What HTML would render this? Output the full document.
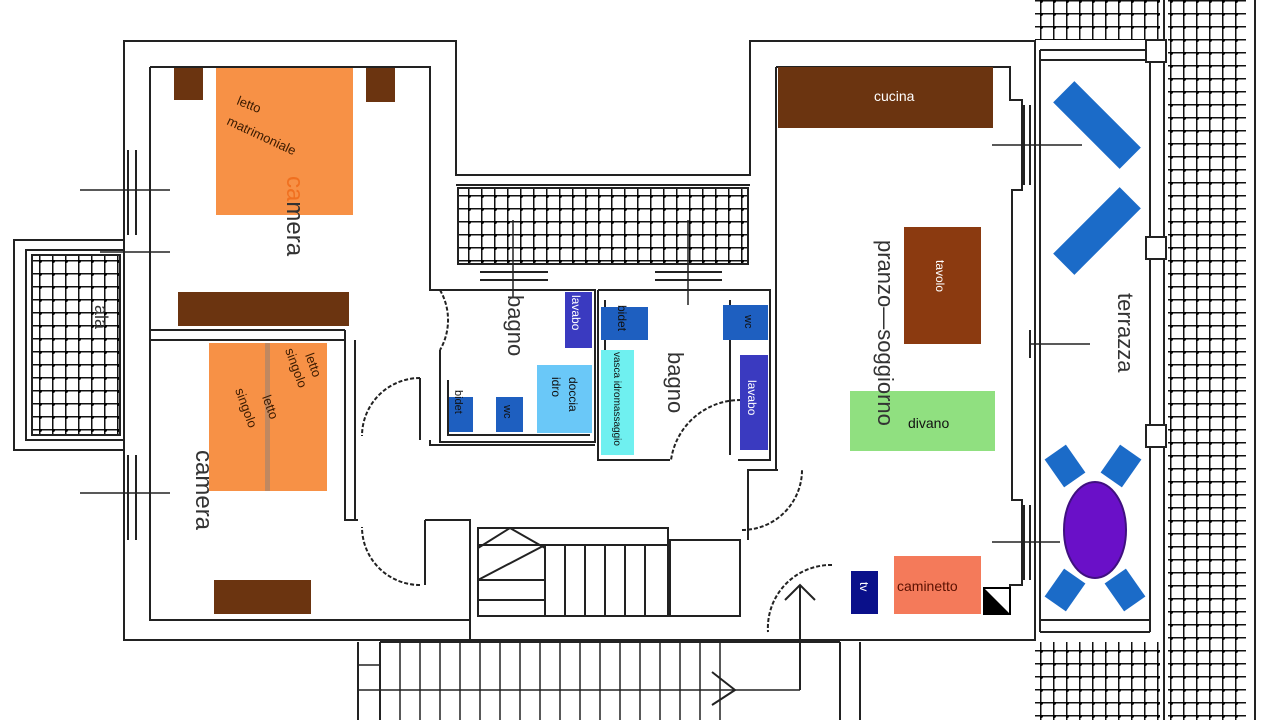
<!DOCTYPE html>
<html><head><meta charset="utf-8"><style>
html,body{margin:0;padding:0;background:#fff;width:1280px;height:720px;overflow:hidden}
svg{display:block;font-family:"Liberation Sans",sans-serif}
</style></head><body>
<svg width="1280" height="720" viewBox="0 0 1280 720" xmlns="http://www.w3.org/2000/svg">
<defs>
<pattern id="t" width="13" height="13" patternUnits="userSpaceOnUse">
<rect width="13" height="13" fill="#fff"/>
<path d="M0 0.5H13M0.5 0V13" stroke="#111" stroke-width="2"/>
<circle cx="1" cy="1" r="2" fill="#000"/>
</pattern>
</defs>
<g fill="none" stroke="#222" stroke-width="2">
<rect x="1035" y="0" width="125" height="40" fill="url(#t)" stroke="none"/>
<rect x="1035" y="642" width="125" height="78" fill="url(#t)" stroke="none"/>
<rect x="1168" y="0" width="78" height="720" fill="url(#t)" stroke="none"/>
<rect x="458" y="188" width="290" height="76" fill="url(#t)"/>
<rect x="32" y="255" width="88" height="180" fill="url(#t)"/>
<line x1="1255" y1="0" x2="1255" y2="720"/>
<line x1="1164" y1="0" x2="1164" y2="720"/>
<rect x="14" y="240" width="110" height="210"/>
<rect x="26" y="250" width="98" height="190"/>
<path d="M124 41H456V175H750V41H1035V640H124Z"/>
<path d="M150 67H430V290H440"/>
<path d="M150 67V620H470V525"/>
<path d="M776 67H1010V100H1022V190H1012V500H1022V585H1010V600"/>
<path d="M776 67V470"/>
<line x1="456" y1="185" x2="750" y2="185"/>
<line x1="150" y1="330" x2="345" y2="330"/>
<line x1="150" y1="340" x2="345" y2="340"/>
<path d="M345 330V520H358"/><path d="M355 340V520"/>
<path d="M440 290H595V442H440V350"/>
<path d="M448 380V435H590"/>
<path d="M430 440V445H595"/>
<path d="M598 290H770V460H738"/>
<path d="M598 290V460H670"/>
<path d="M605 300V455"/>
<path d="M730 300V455"/>
<path d="M778 470H748V540"/>
<path d="M440 290A60 60 0 0 1 440 350" stroke-dasharray="4 2"/>
<path d="M420 378A58 58 0 0 0 362 436" stroke-dasharray="4 2"/>
<path d="M420 585A58 58 0 0 1 362 527" stroke-dasharray="4 2"/>
<path d="M741 400A70 70 0 0 0 671 460" stroke-dasharray="4 2"/>
<path d="M742 530A60 60 0 0 0 802 470" stroke-dasharray="4 2"/>
<path d="M832 565A63 63 0 0 0 768 632" stroke-dasharray="4 2"/>
<line x1="420" y1="378" x2="420" y2="440"/>
<path d="M425 520H470V640"/>
<path d="M425 520V585"/>
<rect x="478" y="528" width="190" height="88"/>
<path d="M478 545H545V616M545 545H668M565 545V616M585 545V616M605 545V616M625 545V616M645 545V616M478 580H545M478 600H545"/>
<rect x="670" y="540" width="70" height="76"/>
<path d="M478 548L510 528L545 548M478 580L545 545"/>
<path d="M358 642V720M380 642V720M840 642V720M860 642V720"/>
<path d="M380 642H840"/>
<g stroke-width="1.5"><path d="M400 642V720M420 642V720M440 642V720M460 642V720M480 642V720M500 642V720M520 642V720M540 642V720M560 642V720M580 642V720M600 642V720M620 642V720M640 642V720M660 642V720M680 642V720M700 642V720M720 642V720M358 665H380M358 690H800"/></g>
<path d="M800 585V690M785 600L800 585L815 600M712 672L735 690L712 705"/>
<path d="M1040 50V632M1150 60V632"/>
<path d="M1040 60H1150M1040 50H1150M1040 620H1150M1040 632H1150"/>
<rect x="1146" y="40" width="20" height="22" fill="#fff"/>
<rect x="1146" y="237" width="20" height="22" fill="#fff"/>
<rect x="1146" y="425" width="20" height="22" fill="#fff"/>
<path d="M128 150V235M136 150V235M128 455V540M136 455V540M1024 105V185M1030 105V185M1024 505V580M1030 505V580M1030 330V358"/>
<path d="M480 272H548M480 280H548M655 272H722M655 280H722"/>
<g stroke-width="1.5"><path d="M80 190H170M100 252H170M80 493H170M992 145H1082M1030 344H1090M992 542H1060M513 220V298M688 220V305"/></g>
</g>
<rect x="216" y="68" width="137" height="147" fill="#F79146"/>
<rect x="174" y="68" width="29" height="32" fill="#6B3410"/>
<rect x="366" y="68" width="29" height="34" fill="#6B3410"/>
<rect x="178" y="292" width="171" height="34" fill="#6B3410"/>
<rect x="209" y="343" width="56" height="148" fill="#F79146"/>
<rect x="265" y="343" width="5" height="148" fill="#C08860"/>
<rect x="270" y="343" width="57" height="148" fill="#F79146"/>
<rect x="214" y="580" width="97" height="34" fill="#6B3410"/>
<rect x="778" y="67" width="215" height="61" fill="#6B3410"/>
<rect x="904" y="227" width="77" height="117" fill="#8B3A10"/>
<rect x="850" y="391" width="145" height="60" fill="#90E080"/>
<rect x="894" y="556" width="87" height="58" fill="#F47A5A"/>
<rect x="851" y="571" width="27" height="43" fill="#0A108A"/>
<rect x="984" y="588" width="26" height="26" fill="#fff" stroke="#000" stroke-width="2"/>
<path d="M985 589L1009 613H985Z" fill="#000"/>
<rect x="565" y="292" width="27" height="56" fill="#3A3AC0"/>
<rect x="449" y="397" width="24" height="35" fill="#1E5FC0"/>
<rect x="496" y="397" width="27" height="35" fill="#1E5FC0"/>
<rect x="537" y="365" width="55" height="68" fill="#6AC8F8"/>
<rect x="601" y="307" width="47" height="33" fill="#1E5FC0"/>
<rect x="601" y="350" width="33" height="105" fill="#6FF0F0"/>
<rect x="723" y="305" width="45" height="35" fill="#1E5FC0"/>
<rect x="740" y="355" width="28" height="95" fill="#3A3AC0"/>
<g fill="#1B6BC8">
<rect x="-47" y="-15" width="94" height="30" transform="translate(1097 125) rotate(45)"/>
<rect x="-47" y="-15" width="94" height="30" transform="translate(1097 231) rotate(-45)"/>
<rect x="-13" y="-17" width="26" height="34" transform="translate(1065 466) rotate(-35)"/>
<rect x="-13" y="-17" width="26" height="34" transform="translate(1121 466) rotate(35)"/>
<rect x="-13" y="-17" width="26" height="34" transform="translate(1065 590) rotate(35)"/>
<rect x="-13" y="-17" width="26" height="34" transform="translate(1125 590) rotate(-35)"/>
</g>
<ellipse cx="1095" cy="530" rx="31" ry="48" fill="#6A10C8" stroke="#401080" stroke-width="2"/>
<g font-size="13" fill="#3a1a00">
<text transform="translate(236 104) rotate(22)">letto</text>
<text transform="translate(226 124) rotate(25)">matrimoniale</text>
<text transform="translate(262 397) rotate(70)">letto</text>
<text transform="translate(235 390) rotate(70)">singolo</text>
<text transform="translate(305 355) rotate(70)">letto</text>
<text transform="translate(285 350) rotate(70)">singolo</text>
</g>
<g font-size="22" fill="#333">
<text transform="translate(287 176) rotate(90)" font-size="24"><tspan fill="#F07020">ca</tspan>mera</text>
<text transform="translate(196 450) rotate(90)" font-size="24">camera</text>
<text transform="translate(508 295) rotate(90)">bagno</text>
<text transform="translate(668 352) rotate(90)">bagno</text>
<text transform="translate(878 240) rotate(90)">pranzo—soggiorno</text>
<text transform="translate(1118 293) rotate(90)">terrazza</text>
<text transform="translate(95 305) rotate(90)" font-size="18">ala</text>
</g>
<g font-size="12" fill="#111">
<text x="874" y="101" fill="#fff" font-size="14">cucina</text>
<text transform="translate(936 260) rotate(90)" fill="#fff">tavolo</text>
<text x="908" y="428" font-size="14">divano</text>
<text x="897" y="591" font-size="14" fill="#5a1000">caminetto</text>
<text transform="translate(860 582) rotate(90)" fill="#fff">tv</text>
<text transform="translate(572 295) rotate(90)" fill="#fff">lavabo</text>
<text transform="translate(569 377) rotate(90)">doccia</text>
<text transform="translate(552 377) rotate(90)">idro</text>
<text transform="translate(455 390) rotate(90)" font-size="11">bidet</text>
<text transform="translate(504 405) rotate(90)" font-size="11">wc</text>
<text transform="translate(618 305) rotate(90)">bidet</text>
<text transform="translate(614 352) rotate(90)" font-size="10">vasca idromassaggio</text>
<text transform="translate(745 315) rotate(90)" font-size="11">wc</text>
<text transform="translate(748 380) rotate(90)" fill="#fff">lavabo</text>
</g>
</svg>
</body></html>
